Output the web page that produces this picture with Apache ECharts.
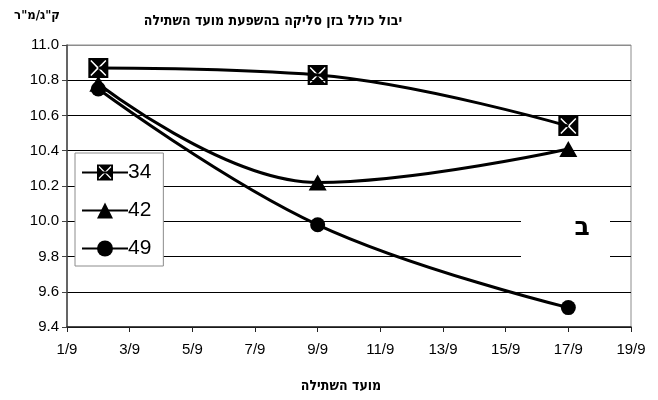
<!DOCTYPE html>
<html>
<head>
<meta charset="utf-8">
<script src="https://cdn.jsdelivr.net/npm/echarts@6/dist/echarts.min.js"></script>
<style>
html,body{margin:0;padding:0;background:#fff;}
#c{width:658px;height:400px;}
</style>
</head>
<body>
<div id="c"></div>
<script>
// Data
const days = [2, 9, 17];            // day of September
const seriesNames = ['34', '42', '49'];
const s34 = [10.87, 10.83, 10.54];
const s42 = [10.78, 10.22, 10.41];
const s49 = [10.75, 9.98, 9.51];
const titleText = 'יבול כולל בזן סליקה בהשפעת מועד השתילה';
const yName = 'ק"ג/מ"ר';
const xName = 'מועד השתילה';
const panelLabel = 'ב';

const FONT = '"Liberation Sans", Arial, sans-serif';
const HFONT = '"DejaVu Sans Condensed", "DejaVu Sans", sans-serif';
const BFONT = '"DejaVu Sans", sans-serif';
// black square with white X (hole)
const boxX = 'path://M0 0L100 0L100 100L0 100Z M10 15L43 50L10 85L15 90L50 55L85 90L90 85L57 50L90 15L85 10L50 45L15 10Z';

function pairs(vals){ return days.map((d,i)=>[d, vals[i]]); }

const chart = echarts.init(document.getElementById('c'));
const lineStyle = {color:'#000', width:3};
chart.setOption({
  animation:false,
  backgroundColor:'#fff',
  grid:{left:67, right:27, top:45, bottom:73, show:true, borderColor:'#8c8c8c', borderWidth:1, backgroundColor:'transparent'},
  xAxis:{
    type:'value', min:1, max:19, interval:2,
    axisLine:{show:true, onZero:false, lineStyle:{color:'#222', width:1.5}},
    axisTick:{show:true, length:5, lineStyle:{color:'#222'}},
    splitLine:{show:false},
    axisLabel:{color:'#000', fontFamily:FONT, fontSize:15, margin:15, formatter:v=>v+'/9'}
  },
  yAxis:{
    type:'value', min:9.4, max:11.0, interval:0.2,
    axisLine:{show:true, lineStyle:{color:'#444', width:1.5}},
    axisTick:{show:true, length:5, lineStyle:{color:'#444'}},
    splitLine:{show:true, lineStyle:{color:['#000','#000','#000','#000','#000','#000','#000','#000','#8c8c8c'], width:1}},
    axisLabel:{color:'#000', fontFamily:FONT, fontSize:15, margin:8, formatter:v=>v.toFixed(1)}
  },
  legend:{
    orient:'vertical', left:75, top:153,
    data:seriesNames,
    itemWidth:46, itemHeight:20, itemGap:17,
    padding:[9,12,7,6],
    borderColor:'#8c8c8c', borderWidth:1, backgroundColor:'#fff',
    textStyle:{fontFamily:FONT, fontSize:21, color:'#000', padding:[0,0,0,-5]}
  },
  graphic:[
    {type:'rect', left:521, top:200, shape:{width:89, height:62}, style:{fill:'#fff'}, z:5},
    {type:'text', x:582, y:228, style:{text:panelLabel, font:'bold 25px '+BFONT, fill:'#000', align:'center', verticalAlign:'middle'}, z:6},
    {type:'text', x:273, y:21, style:{text:titleText, font:'bold 14px '+HFONT, fill:'#000', align:'center', verticalAlign:'middle'}},
    {type:'text', x:37, y:16, style:{text:yName, font:'bold 13px '+HFONT, fill:'#000', align:'center', verticalAlign:'middle'}},
    {type:'text', x:341, y:386, style:{text:xName, font:'bold 14px '+HFONT, fill:'#000', align:'center', verticalAlign:'middle'}}
  ],
  series:[
    {name:'49', type:'line', data:pairs(s49), smooth:0.4, symbol:'circle', symbolSize:15,
     lineStyle:lineStyle, itemStyle:{color:'#000'}, z:3},
    {name:'42', type:'line', data:pairs(s42), smooth:0.4, symbol:'triangle', symbolSize:[18,16],
     lineStyle:lineStyle, itemStyle:{color:'#000'}, z:4},
    {name:'34', type:'line', data:pairs(s34), smooth:0.4, symbol:boxX, symbolSize:20,
     lineStyle:lineStyle, itemStyle:{color:'#000'}, z:5}
  ]
});
</script>
</body>
</html>
